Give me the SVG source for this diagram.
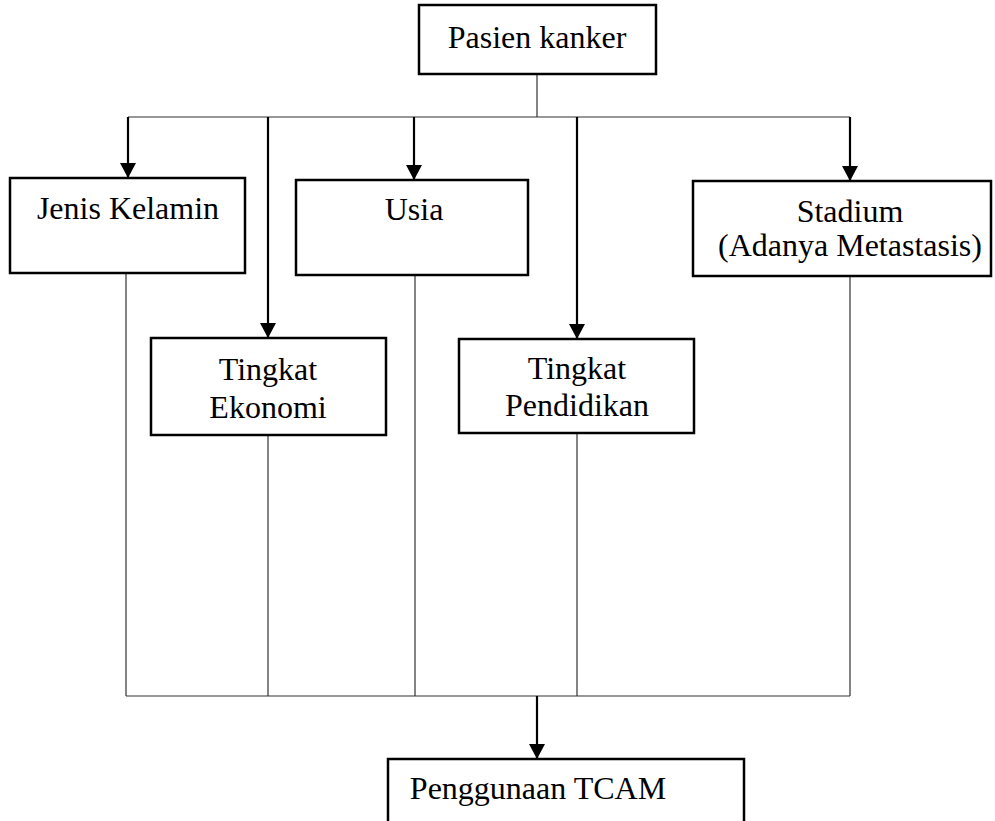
<svg xmlns="http://www.w3.org/2000/svg" width="995" height="821" viewBox="0 0 995 821">
<style>
.box{fill:#fff;stroke:#000;stroke-width:2.5}
.t{font-family:"Liberation Serif","Times New Roman",serif;font-size:32px;fill:#000;text-anchor:middle}
.thin{stroke:#333;stroke-width:1.2;fill:none}
.arr{stroke:#000;stroke-width:2.2;fill:none;marker-end:url(#ah)}
</style>
<defs>
<marker id="ah" markerWidth="15" markerHeight="16" refX="15" refY="8" orient="auto" markerUnits="userSpaceOnUse" viewBox="0 0 15 16">
<path d="M0,0 L15,8 L0,16 Z" fill="#000"/>
</marker>
</defs>
<rect width="995" height="821" fill="#fff"/>
<g id="connectors">
<path class="thin" d="M537,74 V117 M128,117 H850"/>
<path class="arr" d="M128,117 V178"/>
<path class="arr" d="M268,117 V338"/>
<path class="arr" d="M414,117 V180"/>
<path class="arr" d="M577,117 V339"/>
<path class="arr" d="M850,117 V181"/>
<path class="thin" d="M126,273 V696 M268,435 V696 M415,275 V696 M577,433 V696 M850,276 V696 M126,696 H850"/>
<path class="arr" d="M537,696 V759"/>
</g>
<g id="pasien"><rect class="box" x="419" y="5" width="237" height="69"/><text class="t" x="537" y="48">Pasien kanker</text></g>
<g id="jenis"><rect class="box" x="10" y="178" width="235" height="95"/><text class="t" x="128" y="219">Jenis Kelamin</text></g>
<g id="usia"><rect class="box" x="296" y="180" width="232" height="95"/><text class="t" x="414" y="220">Usia</text></g>
<g id="stadium"><rect class="box" x="693" y="181" width="298" height="95"/><text class="t" x="850" y="222">Stadium</text><text class="t" x="850" y="256">(Adanya Metastasis)</text></g>
<g id="ekonomi"><rect class="box" x="151" y="338" width="235" height="97"/><text class="t" x="268" y="380">Tingkat</text><text class="t" x="268" y="418">Ekonomi</text></g>
<g id="pendidikan"><rect class="box" x="459" y="339" width="235" height="94"/><text class="t" x="577" y="379">Tingkat</text><text class="t" x="577" y="416">Pendidikan</text></g>
<g id="tcam"><rect class="box" x="388" y="759" width="356" height="80"/><text class="t" x="538" y="799">Penggunaan TCAM</text></g>
</svg>
